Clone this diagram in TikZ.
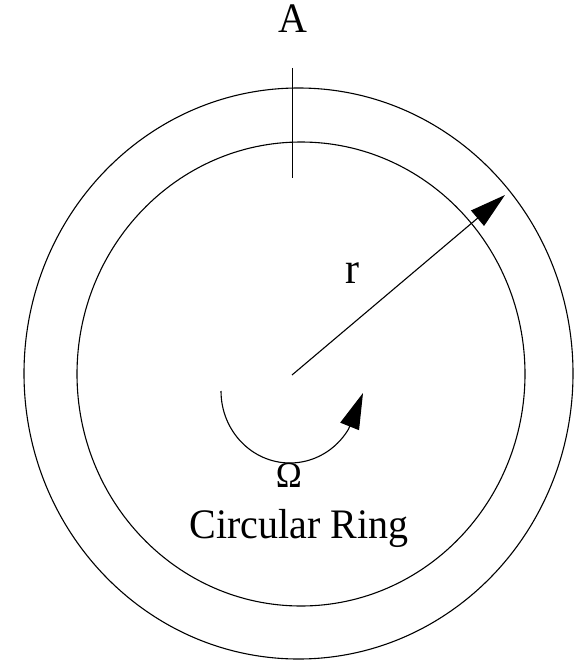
\documentclass[tikz,border=0pt]{standalone}
\usepackage{fontspec}
\setmainfont{Liberation Serif}
\usetikzlibrary{arrows.meta}
\newcommand{\tallt}[1]{\scalebox{1}[1.05]{#1}}
\begin{document}
\begin{tikzpicture}[x=1pt,y=-1pt, line width=1.1pt,
  lbl/.style={inner sep=0pt, anchor=base},
  bigarrow/.style={-{Triangle[length=36pt,width=20pt]}}]
\useasboundingbox (0,0) rectangle (574,661);
% rings
\draw (298.5,373.5) ellipse [x radius=274.5pt, y radius=285.5pt];
\draw (301,374) ellipse [x radius=224pt, y radius=232pt];
% section mark A
\coordinate (atop) at (292,68);
\coordinate (abot) at (292,178);
\draw[line width=1pt] (atop) -- (abot);
\node[lbl, font=\fontsize{40}{44}\selectfont] (A) at (293,33) {\tallt{A}};
% radius
\coordinate (c) at (292,375);
\coordinate (rtip) at (505,195);
\draw[bigarrow] (c) -- (rtip);
\node[lbl, font=\fontsize{42}{46}\selectfont] (r) at (352,283) {\tallt{r}};
% rotation
\coordinate (ostart) at (221,391);
\coordinate (otip) at (363,393);
\draw[bigarrow] (ostart) arc[start angle=180, end angle=328, x radius=69pt, y radius=72pt] -- (otip);
\node[lbl, font=\fontsize{35}{38}\selectfont] (om) at (289,487) {\tallt{Ω}};
\node[lbl, font=\fontsize{40}{44}\selectfont] (ring) at (299,538) {\tallt{Circular Ring}};
\end{tikzpicture}
\end{document}
